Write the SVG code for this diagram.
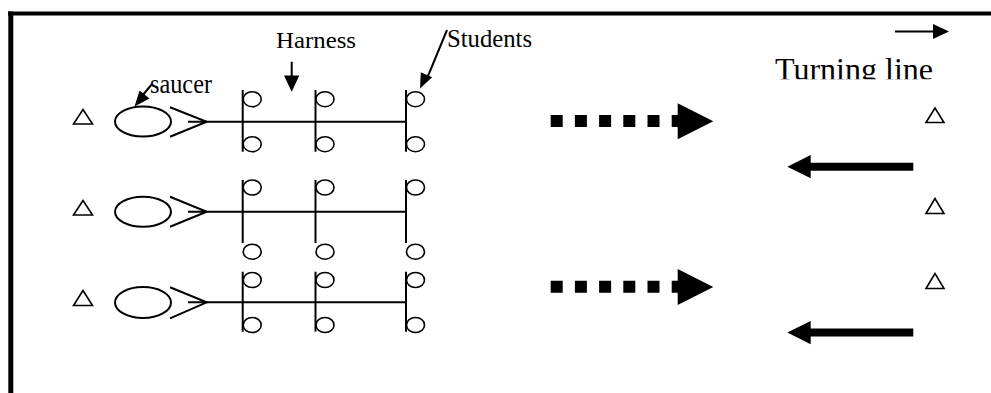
<svg xmlns="http://www.w3.org/2000/svg" width="991" height="393" viewBox="0 0 991 393">
<style>
.ln{stroke:#000;stroke-width:2;fill:none}
.th{stroke:#000;stroke-width:1.6;fill:none}
.tx{font-family:"Liberation Serif","Times New Roman",serif;fill:#000}
.dot{stroke:#000;stroke-width:12;stroke-dasharray:12 12.2;fill:none}
.bar{stroke:#000;stroke-width:8;fill:none}
</style>
<defs>
<clipPath id="clipT"><rect x="700" y="40" width="291" height="39.3"/></clipPath>
</defs>
<rect width="991" height="393" fill="#fff"/>
<g id="frame">
<rect x="8" y="11.5" width="983" height="4" fill="#000"/>
<rect x="8.3" y="11.5" width="5" height="382" fill="#000"/>
</g>
<g id="labels">
<text id="harness" class="tx" x="276" y="47.5" font-size="24" textLength="80" lengthAdjust="spacingAndGlyphs">Harness</text>
<text id="students" class="tx" x="447" y="46.7" font-size="25" textLength="85" lengthAdjust="spacingAndGlyphs">Students</text>
<text id="saucer" class="tx" x="150" y="93" font-size="27" textLength="62" lengthAdjust="spacingAndGlyphs">saucer</text>
<text id="turning" class="tx" x="775" y="80" font-size="32" textLength="158" lengthAdjust="spacingAndGlyphs" clip-path="url(#clipT)">Turning line</text>
</g>
<g id="left-markers">
<polygon class="th" points="83,109.5 73.5,124 92.5,124"/>
<polygon class="th" points="83,200.5 73.5,215 92.5,215"/>
<polygon class="th" points="83,290.5 73.5,305.5 92.5,305.5"/>
</g>
<g id="right-markers">
<polygon class="th" points="935,108 926,122.5 944,122.5"/>
<polygon class="th" points="935,198.5 926,213.5 944,213.5"/>
<polygon class="th" points="935,273.5 926,288.5 944,288.5"/>
</g>
<g id="sled1">
<ellipse class="ln" cx="143" cy="121.5" rx="28" ry="15"/>
<polyline class="ln" points="170,107.3 206.7,121.7 170,136.7"/>
<line class="ln" x1="188" y1="121.7" x2="406" y2="121.7"/>
<line class="ln" x1="242.7" y1="90" x2="242.7" y2="151.7"/>
<line class="ln" x1="315.5" y1="90" x2="315.5" y2="151.7"/>
<line class="ln" x1="406" y1="90" x2="406" y2="151.7"/>
<ellipse class="th" cx="252.2" cy="99.2" rx="9" ry="7.5"/>
<ellipse class="th" cx="325" cy="99.2" rx="9" ry="7.5"/>
<ellipse class="th" cx="415.5" cy="99.2" rx="9" ry="7.5"/>
<ellipse class="th" cx="252.2" cy="144.2" rx="9" ry="7.5"/>
<ellipse class="th" cx="325" cy="144.2" rx="9" ry="7.5"/>
<ellipse class="th" cx="415.5" cy="144.2" rx="9" ry="7.5"/>
</g>
<g id="sled2">
<ellipse class="ln" cx="143" cy="211.7" rx="28" ry="15"/>
<polyline class="ln" points="170,196.7 206.7,211.7 170,226.7"/>
<line class="ln" x1="188" y1="211.7" x2="406" y2="211.7"/>
<line class="ln" x1="242.7" y1="180" x2="242.7" y2="243"/>
<line class="ln" x1="315.5" y1="180" x2="315.5" y2="243"/>
<line class="ln" x1="406" y1="180" x2="406" y2="243"/>
<ellipse class="th" cx="252.2" cy="187.5" rx="9" ry="7.5"/>
<ellipse class="th" cx="325" cy="187.5" rx="9" ry="7.5"/>
<ellipse class="th" cx="415.5" cy="187.5" rx="9" ry="7.5"/>
<ellipse class="th" cx="252.2" cy="251.7" rx="9" ry="7.5"/>
<ellipse class="th" cx="325" cy="251.7" rx="9" ry="7.5"/>
<ellipse class="th" cx="415.5" cy="251.7" rx="9" ry="7.5"/>
</g>
<g id="sled3">
<ellipse class="ln" cx="143" cy="302.5" rx="28" ry="15.5"/>
<polyline class="ln" points="170,287.3 206.7,302.3 170,318.3"/>
<line class="ln" x1="188" y1="302.3" x2="406" y2="302.3"/>
<line class="ln" x1="242.7" y1="271.7" x2="242.7" y2="331.7"/>
<line class="ln" x1="315.5" y1="271.7" x2="315.5" y2="331.7"/>
<line class="ln" x1="406" y1="271.7" x2="406" y2="331.7"/>
<ellipse class="th" cx="252.2" cy="280" rx="9" ry="7.5"/>
<ellipse class="th" cx="325" cy="280" rx="9" ry="7.5"/>
<ellipse class="th" cx="415.5" cy="280" rx="9" ry="7.5"/>
<ellipse class="th" cx="252.2" cy="325" rx="9" ry="7.5"/>
<ellipse class="th" cx="325" cy="325" rx="9" ry="7.5"/>
<ellipse class="th" cx="415.5" cy="325" rx="9" ry="7.5"/>
</g>
<g id="connectors">
<line class="ln" x1="291.7" y1="61.7" x2="291.7" y2="78"/>
<polygon points="284,75.5 299.3,75.5 291.7,91.7" fill="#000"/>
<line class="ln" x1="152" y1="84" x2="142" y2="96"/>
<polygon points="134.5,106.5 139.5,90.5 149.5,98.5" fill="#000"/>
<line class="ln" x1="447" y1="30" x2="428" y2="76"/>
<polygon points="420,88.5 420.8,72.2 432.2,77.2" fill="#000"/>
<line class="ln" x1="895" y1="31.5" x2="935" y2="31.5"/>
<polygon points="933,24 949,31.5 933,39" fill="#000"/>
<line class="dot" x1="550.7" y1="121" x2="680" y2="121"/>
<polygon points="677.7,103.3 713.3,121.2 677.7,139.3" fill="#000"/>
<line class="dot" x1="550.7" y1="286.8" x2="680" y2="286.8"/>
<polygon points="677.7,269 713.3,287 677.7,305" fill="#000"/>
<line class="bar" x1="808" y1="166.7" x2="913.3" y2="166.7"/>
<polygon points="787.3,166.7 810.7,155 810.7,178.3" fill="#000"/>
<line class="bar" x1="808" y1="332.5" x2="913.3" y2="332.5"/>
<polygon points="787.3,332.5 810.7,321 810.7,344.3" fill="#000"/>
</g>
</svg>
